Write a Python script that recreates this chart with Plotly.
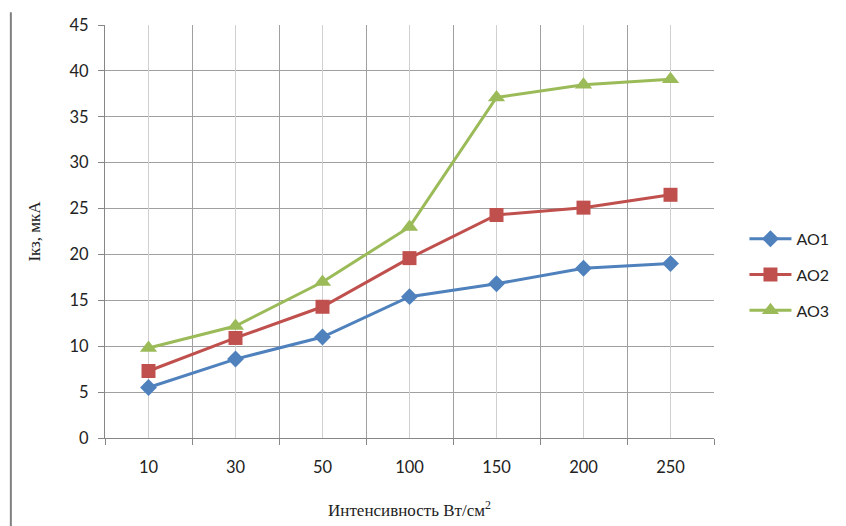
import plotly.graph_objects as go

categories = ["10", "30", "50", "100", "150", "200", "250"]
ao1 = [5.5, 8.6, 11.0, 15.4, 16.8, 18.5, 19.0]
ao2 = [7.3, 10.9, 14.3, 19.6, 24.3, 25.1, 26.5]
ao3 = [9.8, 12.2, 17.0, 23.0, 37.1, 38.5, 39.1]
series_names = ["АО1", "АО2", "АО3"]
y_ticks = [0, 5, 10, 15, 20, 25, 30, 35, 40, 45]

colors = ["#4F81BD", "#C0504D", "#9BBB59"]
symbols = ["diamond", "square", "triangle-up"]
sizes = [13, 14, 15]

fig = go.Figure()
for name, vals, c, s, sz in zip(series_names, [ao1, ao2, ao3], colors, symbols, sizes):
    fig.add_trace(go.Scatter(
        x=categories, y=vals, name=name, mode="lines+markers", legendgroup=name,
        line=dict(color=c, width=3),
        marker=dict(symbol=s, size=sz, color=c),
    ))

tick_font = dict(family="Lato, Open Sans, sans-serif", size=16.5, color="#222222")
serif = dict(family="Liberation Serif, Times New Roman, serif", size=17, color="#222222")

# light gridlines at category centres (category index on the category axis)
center_lines = [dict(type="line", xref="x", yref="y", x0=i, x1=i,
                     y0=y_ticks[0], y1=y_ticks[-1],
                     line=dict(color="#D0D0D0", width=1), layer="between")
                for i, _ in enumerate(categories)]

fig.update_layout(
    width=838, height=518,
    margin=dict(l=97, r=120, t=17, b=88),
    paper_bgcolor="white", plot_bgcolor="rgba(0,0,0,0)",
    showlegend=True,
    legend=dict(x=1.05, y=0.395, xanchor="left", yanchor="middle",
                font=dict(family="Lato, Open Sans, sans-serif", size=16, color="#222222"),
                tracegroupgap=12, itemwidth=42, bgcolor="rgba(0,0,0,0)"),
    xaxis=dict(
        type="category", categoryorder="array", categoryarray=categories,
        range=[-0.5, 6.5], tickson="boundaries", automargin=False,
        showgrid=True, gridcolor="#A0A0A0", gridwidth=1,
        showline=True, linecolor="#868686", linewidth=1,
        ticks="outside", ticklen=6, tickcolor="#868686",
        tickfont=tick_font, ticklabelstandoff=14,
        title=dict(text="Интенсивность Вт/см<sup>2</sup>", font=serif, standoff=28),
        zeroline=False,
    ),
    yaxis=dict(
        range=[0, 45], tickvals=y_ticks, showgrid=True, automargin=False,
        gridcolor="#A0A0A0", gridwidth=1,
        showline=True, linecolor="#868686", linewidth=1,
        ticks="outside", ticklen=6, tickcolor="#868686",
        tickfont=tick_font, ticklabelstandoff=6,
        title=dict(text="Iкз, мкА", font=serif, standoff=24),
        zeroline=False,
    ),
    shapes=center_lines + [dict(type="line", xref="paper", yref="paper",
                 x0=-0.1546, x1=-0.1546, y0=1.031, y1=-0.22,
                 line=dict(color="#808080", width=2))],
)

fig.write_html("out.html")
